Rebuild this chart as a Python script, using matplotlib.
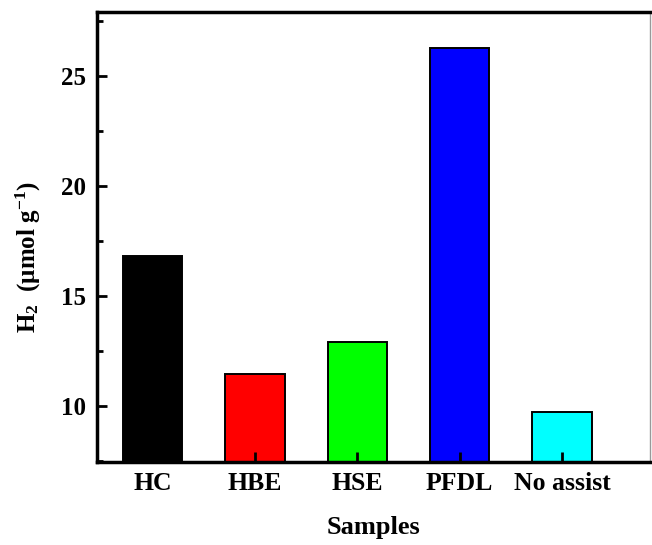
import matplotlib
matplotlib.use("Agg")
import matplotlib.pyplot as plt
from matplotlib.ticker import MultipleLocator

plt.rcParams["font.family"] = ["Liberation Serif", "DejaVu Serif"]
plt.rcParams["font.weight"] = "bold"
plt.rcParams["mathtext.fontset"] = "custom"
plt.rcParams["mathtext.rm"] = "Liberation Serif:bold"
plt.rcParams["mathtext.bf"] = "Liberation Serif:bold"
plt.rcParams["mathtext.it"] = "Liberation Serif:bold"

# data
samples = ["HC", "HBE", "HSE", "PFDL", "No assist"]
h2_yield = [16.8, 11.45, 12.9, 26.25, 9.72]
bar_colors = ["#000000", "#ff0000", "#00ff00", "#0000ff", "#00ffff"]

fig = plt.figure(figsize=(6.52, 5.45), dpi=100)
ax = fig.add_axes([0.149, 0.152, 0.848, 0.826])

x = range(len(samples))
ax.bar(x, h2_yield, width=0.58, color=bar_colors, edgecolor="black",
       linewidth=1.4, zorder=1)

ax.set_xlim(-0.54, 4.86)
ax.set_ylim(7.45, 27.9)
ax.set_xticks(list(x))
ax.set_xticklabels(samples)
ax.yaxis.set_major_locator(MultipleLocator(5))
ax.yaxis.set_minor_locator(MultipleLocator(2.5))

ax.tick_params(axis="both", which="major", direction="in", length=7, width=2)
ax.tick_params(axis="y", which="major", labelsize=18, pad=8)
ax.tick_params(axis="x", which="major", labelsize=18.5, pad=7)
ax.tick_params(axis="y", which="minor", direction="in", length=4, width=2)
ax.tick_params(axis="x", which="minor", bottom=False)

for side in ["left", "bottom", "top"]:
    ax.spines[side].set_linewidth(2.5)
ax.spines["right"].set_linewidth(1.0)
ax.spines["right"].set_color("#999999")

ax.set_xlabel("Samples", fontsize=19, fontweight="bold", labelpad=15)
ax.set_ylabel(r"H$_{2}$  ($\mu$mol g$^{-1}$)", fontsize=18, fontweight="bold")
ax.yaxis.set_label_coords(-0.098, 0.456)

fig.savefig("out.png", dpi=100)
